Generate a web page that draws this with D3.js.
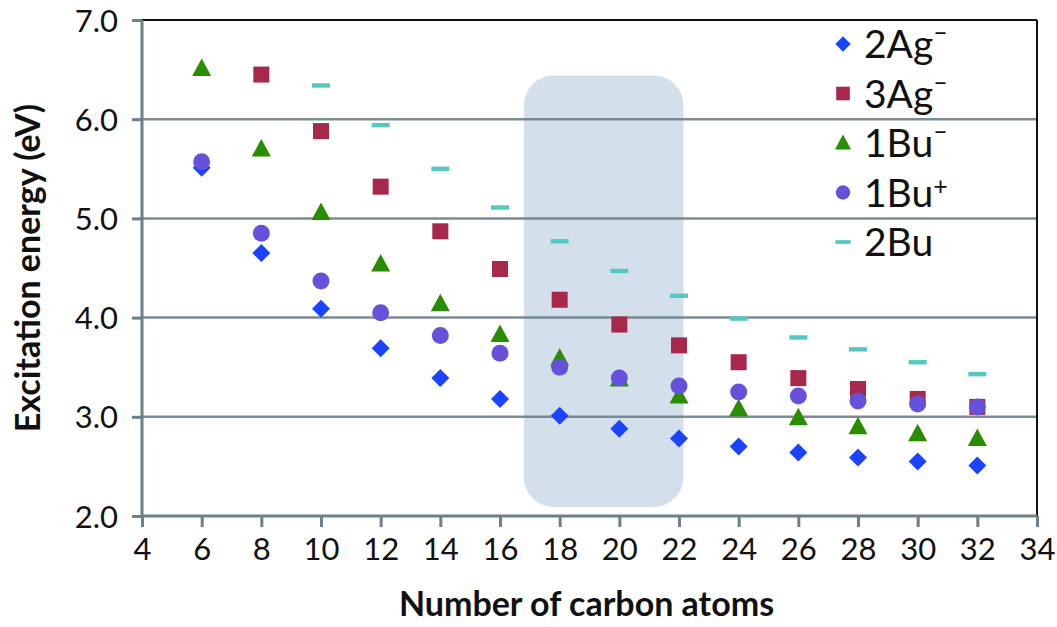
<!DOCTYPE html>
<html>
<head>
<meta charset="utf-8">
<script src="https://cdn.jsdelivr.net/npm/d3@7"></script>
<style>
body { margin: 0; background: #fff; }
text { font-family: Lato, "Open Sans", sans-serif; fill: #111; }
</style>
</head>
<body>
<div id="chart"></div>
<script>
// carbon atom counts
var carbons = [6, 8, 10, 12, 14, 16, 18, 20, 22, 24, 26, 28, 30, 32];

var ag2 = [5.51, 4.65, 4.09, 3.69, 3.39, 3.18, 3.01, 2.88, 2.78, 2.70, 2.64, 2.59, 2.55, 2.51];
var ag3 = [null, 6.45, 5.88, 5.32, 4.87, 4.49, 4.18, 3.93, 3.72, 3.55, 3.39, 3.28, 3.18, 3.10];
var bu1m = [6.51, 5.70, 5.06, 4.54, 4.14, 3.83, 3.59, 3.38, 3.21, 3.08, 2.99, 2.90, 2.83, 2.78];
var bu1p = [5.57, 4.85, 4.37, 4.05, 3.82, 3.64, 3.50, 3.39, 3.31, 3.25, 3.21, 3.16, 3.13, 3.10];
var bu2 = [null, null, 6.34, 5.94, 5.50, 5.11, 4.77, 4.47, 4.22, 3.99, 3.80, 3.68, 3.55, 3.43];

var xTicks = [4, 6, 8, 10, 12, 14, 16, 18, 20, 22, 24, 26, 28, 30, 32, 34];
var yTicks = [2, 3, 4, 5, 6, 7];

var series = [
  {name: "2Ag", sup: "\u2013", vals: ag2, shape: "diamond", color: "#1a44ff"},
  {name: "3Ag", sup: "\u2013", vals: ag3, shape: "square", color: "#a8284c"},
  {name: "1Bu", sup: "\u2013", vals: bu1m, shape: "triangle", color: "#2a8c00"},
  {name: "1Bu", sup: "+", vals: bu1p, shape: "circle", color: "#6652da"},
  {name: "2Bu", sup: "", vals: bu2, shape: "dash", color: "#55c8c2"}
];

// highlighted region (carbon number / eV)
var band = {x0: 16.8, x1: 22.15, y0: 2.09, y1: 6.44};

var W = 1057, H = 627;
var m = {left: 142, right: 20, top: 20, bottom: 111};

var svg = d3.select("#chart").append("svg")
  .attr("width", W)
  .attr("height", H);

var x = d3.scaleLinear().domain([4, 34]).range([m.left, W - m.right]);
var y = d3.scaleLinear().domain([2, 7]).range([H - m.bottom, m.top]);

var gridCol = "#6d8088";

// shaded band
svg.append("rect")
  .attr("x", x(band.x0))
  .attr("y", y(band.y1))
  .attr("width", x(band.x1) - x(band.x0))
  .attr("height", y(band.y0) - y(band.y1))
  .attr("rx", 30)
  .attr("fill", "#d4dfec");

// gridlines
svg.selectAll(".grid")
  .data(yTicks.filter(function(d) { return d > 2 && d < 7; }))
  .enter()
  .append("line")
  .attr("x1", x(4)).attr("x2", x(34))
  .attr("y1", function(d) { return y(d); })
  .attr("y2", function(d) { return y(d); })
  .attr("stroke", gridCol)
  .attr("stroke-width", 2.5)
  .attr("opacity", 0.9);

// top and right border
svg.append("line")
  .attr("x1", x(4)).attr("x2", x(34))
  .attr("y1", y(7)).attr("y2", y(7))
  .attr("stroke", "#111").attr("stroke-width", 2);
svg.append("line")
  .attr("x1", x(34)).attr("x2", x(34))
  .attr("y1", y(7)).attr("y2", y(2))
  .attr("stroke", "#111").attr("stroke-width", 2);

// axes
var xAxis = svg.append("g")
  .attr("transform", "translate(0," + y(2) + ")")
  .call(d3.axisBottom(x).tickValues(xTicks).tickSize(11).tickPadding(11).tickFormat(d3.format("d")));
var yAxis = svg.append("g")
  .attr("transform", "translate(" + x(4) + ",0)")
  .call(d3.axisLeft(y).tickValues(yTicks).tickSize(10).tickPadding(14).tickFormat(d3.format(".1f")));

[xAxis, yAxis].forEach(function(ax) {
  ax.attr("font-size", null).attr("font-family", null);
  ax.select(".domain").attr("stroke", gridCol).attr("stroke-width", 3);
  ax.selectAll(".tick line").attr("stroke", gridCol).attr("stroke-width", 3);
  ax.selectAll(".tick text")
    .style("font-size", "31px")
    .style("font-family", "Lato, 'Open Sans', sans-serif")
    .attr("fill", "#111");
});
xAxis.select(".domain").attr("d", "M" + x(4) + ",0H" + x(34));
yAxis.select(".domain").attr("d", "M0," + y(2) + "V" + y(7));
yAxis.selectAll(".tick text").attr("dy", "0.36em");

// axis titles
svg.append("text")
  .attr("x", (x(4) + x(34)) / 2 - 3)
  .attr("y", 616)
  .attr("text-anchor", "middle")
  .style("font-size", "34px")
  .style("font-weight", "bold")
  .text("Number of carbon atoms");

svg.append("text")
  .attr("transform", "translate(40," + (y(4.5)) + ") rotate(-90)")
  .attr("text-anchor", "middle")
  .style("font-size", "34px")
  .style("font-weight", "bold")
  .text("Excitation energy (eV)");

function drawMark(g, shape, color) {
  if (shape === "diamond") {
    g.append("path").attr("d", "M0,-9L9,0L0,9L-9,0Z").attr("fill", color);
  } else if (shape === "square") {
    g.append("rect").attr("x", -8).attr("y", -8).attr("width", 16).attr("height", 16).attr("fill", color);
  } else if (shape === "triangle") {
    g.append("path").attr("d", "M0,-10L9.5,7.5L-9.5,7.5Z").attr("fill", color);
  } else if (shape === "circle") {
    g.append("circle").attr("r", 8.5).attr("fill", color);
  } else {
    g.append("rect").attr("x", -9).attr("y", -2.2).attr("width", 18).attr("height", 4.4).attr("fill", color);
  }
}

// markers
series.forEach(function(s) {
  var pts = carbons.map(function(c, i) { return {c: c, v: s.vals[i]}; })
    .filter(function(d) { return d.v != null; });
  svg.selectAll(".m-" + s.shape)
    .data(pts)
    .enter()
    .append("g")
    .attr("class", "m-" + s.shape)
    .attr("transform", function(d) { return "translate(" + x(d.c) + "," + y(d.v) + ")"; })
    .each(function() { drawMark(d3.select(this), s.shape, s.color); });
});

// legend
var legend = svg.append("g").attr("transform", "translate(843,44)");
series.forEach(function(s, i) {
  var row = legend.append("g").attr("transform", "translate(0," + (i * 49.5) + ")");
  var mg = row.append("g").attr("transform", "scale(0.85)");
  drawMark(mg, s.shape, s.color);
  var t = row.append("text")
    .attr("x", 21)
    .attr("y", 14)
    .style("font-size", "39px")
    .text(s.name);
  if (s.sup) {
    t.append("tspan")
      .style("font-size", "25px")
      .attr("dy", s.sup === "+" ? "-12" : "-17")
      .text(s.sup);
  }
});
</script>
</body>
</html>
